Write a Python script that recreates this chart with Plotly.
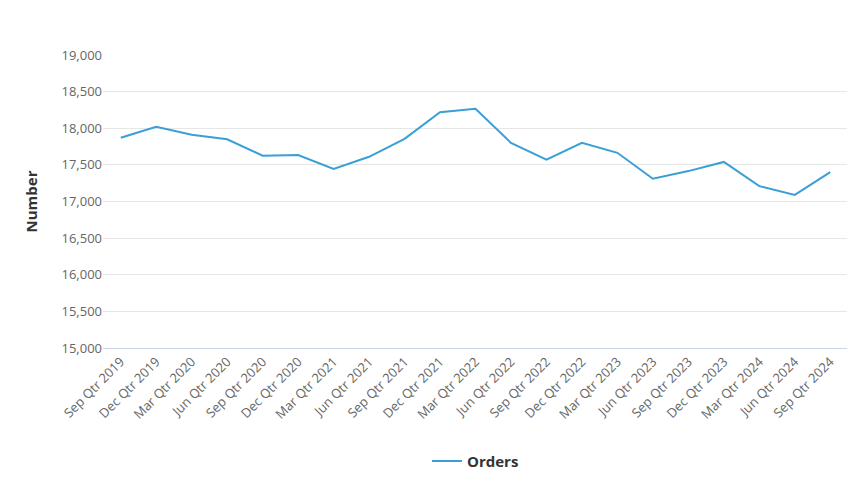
import plotly.graph_objects as go

quarters = ["Sep Qtr 2019", "Dec Qtr 2019", "Mar Qtr 2020", "Jun Qtr 2020", "Sep Qtr 2020",
            "Dec Qtr 2020", "Mar Qtr 2021", "Jun Qtr 2021", "Sep Qtr 2021", "Dec Qtr 2021",
            "Mar Qtr 2022", "Jun Qtr 2022", "Sep Qtr 2022", "Dec Qtr 2022", "Mar Qtr 2023",
            "Jun Qtr 2023", "Sep Qtr 2023", "Dec Qtr 2023", "Mar Qtr 2024", "Jun Qtr 2024",
            "Sep Qtr 2024"]
orders = [17870, 18020, 17910, 17850, 17625, 17635, 17445, 17610, 17855, 18220,
          18265, 17800, 17570, 17800, 17665, 17310, 17415, 17540, 17210, 17090, 17400]

fig = go.Figure()
fig.add_trace(go.Scatter(x=quarters, y=orders, mode="lines", name="<b>Orders</b>",
                         line=dict(color="#3a9fd6", width=2)))

fig.update_layout(
    width=855, height=482,
    template="plotly_white",
    font=dict(family="Open Sans", size=13, color="#555"),
    margin=dict(l=95, r=15, t=47, b=142, autoexpand=False),
    showlegend=True,
    legend=dict(orientation="h", x=0.5, xanchor="center", y=-0.33, yanchor="top",
                font=dict(size=15, color="#333")),
    hovermode="x",
)
fig.update_xaxes(tickangle=-45, showgrid=False, showline=True, linecolor="#ccd6eb",
                 ticks="", tickfont=dict(size=13, color="#666"), range=[-0.5, 20.5],
                 automargin=False)
fig.update_yaxes(range=[15000, 19000], dtick=500, tickformat=",", gridcolor="#e6e6e6",
                 zeroline=False, automargin=False,
                 title=dict(text="<b>Number</b>", font=dict(size=15, color="#333"), standoff=20),
                 tickfont=dict(size=13, color="#666"))

fig.write_html("out.html")
